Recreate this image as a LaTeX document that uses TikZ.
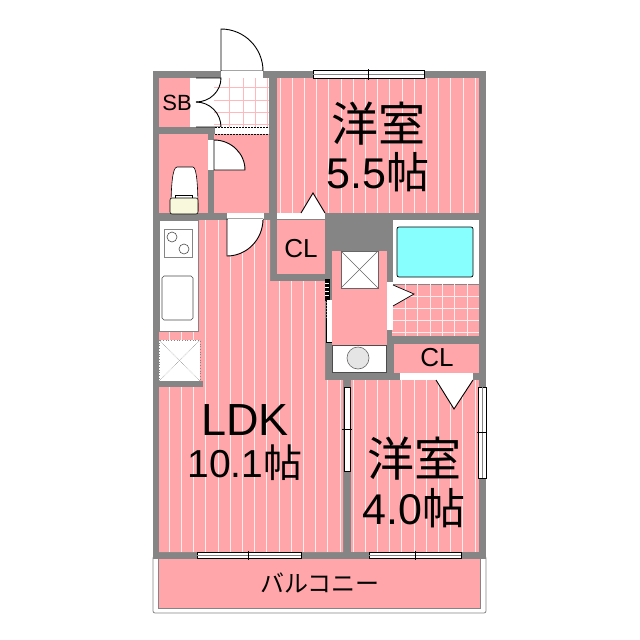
\documentclass[tikz,border=0pt]{standalone}
\usepackage{fontspec}
\setmainfont{Liberation Sans}
\newfontfamily\jpfont{Noto Sans CJK JP}
\definecolor{wallgray}{HTML}{858585}
\definecolor{floorpink}{HTML}{FFA6AA}
\definecolor{stripepink}{HTML}{FFEDEE}
\definecolor{tubblue}{HTML}{88FFFF}
\definecolor{tankcream}{HTML}{F8F8DC}
\tikzstyle{plan}=[x=1pt,y=-1pt,line width=0.8pt]
\tikzstyle{wall}=[fill=wallgray]
\tikzstyle{room}=[fill=floorpink]
\tikzstyle{gap}=[fill=white]
\tikzstyle{door}=[draw=black,fill=white,line width=0.9pt]
\tikzstyle{stripe}=[draw=stripepink,line width=0.9pt]
\tikzstyle{tile}=[draw=floorpink!80,line width=0.9pt]
\tikzstyle{wetgrid}=[draw=stripepink,line width=1pt]
\tikzstyle{sash}=[draw=black,fill=white,line width=0.7pt]
\tikzstyle{bigtext}=[inner sep=0pt,font=\fontsize{43}{43}\selectfont,text=black]
\tikzstyle{kanjitext}=[inner sep=0pt,font=\fontsize{47}{47}\selectfont\jpfont,text=black]
\tikzstyle{cltext}=[inner sep=0pt,font=\fontsize{26}{26}\selectfont,text=black]
\begin{document}
\begin{tikzpicture}[plan]
	\useasboundingbox (0,0) rectangle (640,640);

	%The balcony
	\draw[wallgray,fill=white,rounded corners=2pt,line width=0.8pt] (153,556) rectangle (486,613);
	\draw[room,draw=wallgray,line width=0.6pt] (158,556) rectangle (480,608);

	%The walls, with the rooms cut out of them
	\fill[wall] (153,71) rectangle (486,559);
	\fill[room] (277,78) rectangle (479,213);
	\fill[room] (159,220) -- (270,220) -- (270,281) -- (325,281) -- (325,380) -- (343,380) -- (343,552) -- (159,552) -- cycle;
	\fill[room] (351,380) rectangle (479,552);
	\fill[room] (159,78) rectangle (190,127);
	\fill[room] (159,134) rectangle (208,213);
	\fill[room] (214,134) rectangle (269,213);
	\fill[room] (277,220) rectangle (325,274);
	\fill[room] (332,251) rectangle (387,345);
	\fill[room] (392,284) rectangle (479,336);
	\fill[room] (394,344) rectangle (479,373);

	%The stripes of the three rooms
	\begin{scope}
		\clip (277,78) rectangle (479,213);
		\foreach \sx in {280,292.2,...,480} \draw[stripe] (\sx,78) -- (\sx,213);
	\end{scope}
	\begin{scope}
		\clip (159,220) -- (270,220) -- (270,281) -- (325,281) -- (325,380) -- (343,380) -- (343,552) -- (159,552) -- cycle;
		\foreach \sx in {157,169.2,...,345} \draw[stripe] (\sx,220) -- (\sx,552);
	\end{scope}
	\begin{scope}
		\clip (351,380) rectangle (479,552);
		\foreach \sx in {353,365.2,...,480} \draw[stripe] (\sx,380) -- (\sx,552);
	\end{scope}

	%The entrance
	\fill[gap] (196,78) rectangle (269,127);
	\foreach \sx in {229,243,255,267} \draw[tile] (\sx,78) -- (\sx,127);
	\foreach \sy in {87,100,112,124} \draw[tile] (214,\sy) -- (269,\sy);
	\draw[door] (221,71) -- (221,29) arc[start angle=-90,end angle=0,radius=42] -- cycle;
	\fill[gap] (221,71) rectangle (263,78);
	\fill[gap] (190,78) rectangle (196,127);
	\draw[door,fill=none] (196,78) -- (221,78) arc[start angle=0,end angle=90,x radius=25,y radius=24];
	\draw[door,fill=none] (196,127) -- (221,127) arc[start angle=0,end angle=-90,x radius=25,y radius=25];

	%The step
	\fill[gap] (215,127) rectangle (269,134);
	\draw[dash pattern=on 2pt off 1pt,line width=0.9pt] (215,127) -- (269,127);
	\draw[dash pattern=on 2pt off 1pt,line width=0.9pt] (215,134) -- (269,134);

	%The toilet
	\fill[gap] (208,140) rectangle (214,170);
	\draw[door] (214,140) arc[start angle=-90,end angle=0,x radius=31,y radius=30] -- (214,170) -- cycle;
	\draw[fill=white,line width=0.6pt] (171,211) .. controls (171,190) and (172,167) .. (177,167) -- (193,167) .. controls (197,167) and (198,190) .. (198,211) -- cycle;
	\draw[fill=tankcream,line width=0.6pt,rounded corners=2pt] (170,198) -- (198,198) -- (198,214) -- (170,214) -- cycle;
	\draw[line width=0.4pt] (175,198) -- (175,195) -- (192,195) -- (192,198);

	%The door of the living room
	\fill[gap] (227,213) rectangle (264,219);
	\draw[door] (263,219) arc[start angle=0,end angle=90,x radius=36,y radius=37] -- (227,219) -- cycle;
	\draw[white,line width=1pt] (227.5,219) -- (263,219);

	%The kitchen
	\draw[gap,draw=wallgray,line width=0.6pt] (159,220) rectangle (198,331);
	\draw[fill=white,draw=wallgray,line width=1pt] (164,229) rectangle (192,257);
	\draw[draw=black!70,line width=0.6pt] (172,237) circle[radius=5];
	\draw[draw=black!70,line width=0.6pt] (184,249) circle[radius=5];
	\draw[draw=black!70,line width=0.6pt] (164,276) -- (191,276) -- (193,278) -- (193,318) -- (191,320) -- (164,320) -- (162,318) -- (162,278) -- cycle;
	\draw[gap,draw=wallgray,dotted,line width=0.7pt] (159,340) rectangle (200,381);
	\draw[draw=wallgray,densely dotted,line width=0.5pt] (159,340) -- (200,381);
	\draw[draw=wallgray,densely dotted,line width=0.5pt] (200,340) -- (159,381);
	\fill[wall] (159,381) rectangle (203,387);

	%The upper closet
	\fill[gap] (277,213) rectangle (325,219);
	\draw[door] (301,213) -- (313,193) -- (325,213);

	%The bathroom
	\draw[gap,draw=wallgray,line width=0.6pt] (392,219) rectangle (479,284);
	\draw[fill=tubblue,rounded corners=2pt,line width=0.7pt] (397,227) rectangle (473,277);
	\foreach \sx in {405,417,430,442,454,467} \draw[wetgrid] (\sx,284) -- (\sx,336);
	\foreach \sy in {296,308,320,332} \draw[wetgrid] (392,\sy) -- (479,\sy);
	\fill[gap] (387,282) rectangle (393,330);
	\fill[white] (393,285) -- (414,294) -- (393,306) -- cycle;
	\draw[line width=0.7pt] (393,285) -- (414,294) -- (393,306);

	%The wash room
	\draw[gap,draw=black!60,line width=0.6pt] (341,251) rectangle (378,288);
	\draw[draw=black!60,line width=0.5pt] (341,251) -- (378,288);
	\draw[draw=black!60,line width=0.5pt] (378,251) -- (341,288);
	\draw[gap,draw=black!70,line width=0.6pt] (332,345) rectangle (386,372);
	\draw[fill=black!10,draw=black!60,line width=0.6pt] (358,358) circle[radius=11];
	\draw[fill=black,draw=black,line width=0.4pt] (325,279) rectangle (329,300);
	\foreach \sy in {283,287,291,295} \draw[white,line width=0.8pt] (325,\sy) -- (329,\sy);
	\fill[gap] (327,300) rectangle (332,342);
	\draw[dash pattern=on 2pt off 1pt,line width=0.7pt] (326,300) -- (326,320);
	\draw[line width=0.7pt] (326,320) -- (326,342) -- (332,342);

	%The lower closet
	\fill[gap] (400,373) rectangle (473,380);
	\draw[door] (436,380) -- (454,409) -- (473,380);

	%The windows
	\draw[sash] (313,70) rectangle (424,78);
	\draw[wallgray,line width=1pt] (313,74) -- (424,74);
	\draw[line width=0.6pt] (368.5,69) -- (368.5,80);
	\draw[sash] (197,552) rectangle (301,558);
	\draw[wallgray,line width=0.8pt] (197,555) -- (301,555);
	\draw[line width=0.6pt] (248,551) -- (248,560);
	\draw[sash] (369,552) rectangle (461,558);
	\draw[wallgray,line width=0.8pt] (369,555) -- (461,555);
	\draw[line width=0.6pt] (415,551) -- (415,560);
	\draw[sash] (344,387) rectangle (350,471);
	\draw[line width=0.6pt] (342,429) -- (352,429);
	\draw[sash] (478,387) rectangle (486,478);
	\draw[wallgray,line width=0.8pt] (482,387) -- (482,478);
	\draw[line width=0.6pt] (477,432) -- (487,432);

	%The labels
	\draw (378,124) node[kanjitext] (westernA) {洋室};
	\draw (378,172) node[bigtext] (sizeA) {5.5{\jpfont 帖}};
	\draw (245,420) node[bigtext,font=\fontsize{45}{45}\selectfont] (ldk) {LDK};
	\draw (245,463) node[bigtext,font=\fontsize{39}{39}\selectfont] (sizeB) {10.1{\jpfont 帖}};
	\draw (414,459) node[kanjitext] (westernB) {洋室};
	\draw (414,508) node[bigtext] (sizeC) {4.0{\jpfont 帖}};
	\draw (177,103) node[inner sep=0pt,font=\fontsize{22}{22}\selectfont,text=black] (sb) {SB};
	\draw (301,249) node[cltext] (clA) {CL};
	\draw (437,358) node[cltext] (clB) {CL};
	\draw (320,583) node[inner sep=0pt,font=\fontsize{24}{24}\selectfont\jpfont,text=black] (balcony) {バルコニー};
\end{tikzpicture}
\end{document}
